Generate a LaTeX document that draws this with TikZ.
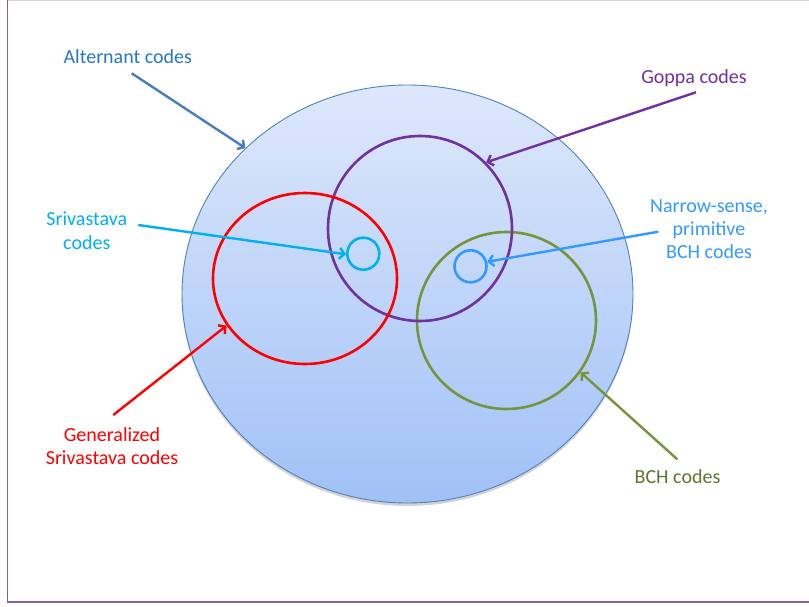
\documentclass[tikz,border=0pt]{standalone}
\usepackage{fontspec}
\setmainfont{Carlito}
\usetikzlibrary{arrows.meta,shapes.geometric,shadows}
\definecolor{slideframe}{RGB}{128,100,162}
\definecolor{alttext}{RGB}{38,120,196}
\definecolor{altarrow}{RGB}{74,126,187}
\definecolor{altedge}{RGB}{79,129,189}
\definecolor{gpurple}{RGB}{112,48,160}
\definecolor{scyan}{RGB}{0,176,240}
\definecolor{nblue}{RGB}{51,153,255}
\definecolor{ored}{RGB}{255,0,0}
\definecolor{bgreen}{RGB}{119,147,60}
\definecolor{bchtext}{RGB}{95,117,48}

\begin{document}
\begin{tikzpicture}[x=1pt,y=-1pt,line width=2.4pt,
            every node/.style={inner sep=0pt},
            >={Straight Barb[length=5pt,width=11pt]},
            set/.style={draw,ellipse,line width=2.6pt},
            lbl/.style={font=\fontsize{20}{23.4}\selectfont,align=center}]
            \useasboundingbox(0,0)rectangle(809,607);
            \draw[slideframe!30,line width=1pt](7.5,0.5)--(809,0.5);
            \draw[slideframe,line width=1.8pt](7.5,0)--(7.5,602)--(809,602);
            \node[set,draw=altedge,line width=0.9pt,top color={rgb,255:red,222;green,232;blue,251},bottom color={rgb,255:red,160;green,193;blue,247},
              drop shadow={shadow xshift=0pt,shadow yshift=-3pt,opacity=.35},minimum width=451pt,minimum height=418pt](alt)at(407.5,294){};
            \node[set,draw=bgreen,minimum width=179pt,minimum height=177pt](bch)at(506.5,320.5){};
            \node[set,draw=gpurple,minimum width=184pt,minimum height=185pt](goppa)at(420,228.5){};
            \node[set,draw=ored,minimum width=184pt,minimum height=171pt](gs)at(305,278.5){};
            \node[set,circle,draw=scyan,minimum size=32pt](sriv)at(363.3,253.7){};
            \node[set,circle,draw=nblue,minimum size=32pt](nbch)at(470.5,266.3){};
            \node[lbl,text=alttext,anchor=base](altl)at(127.8,64){Alternant codes};
            \node[lbl,text=gpurple,anchor=base](goppal)at(694,83.3){Goppa codes};
            \node[lbl,text=scyan,anchor=north](srivl)at(86.8,211){Srivastava\\codes};
            \node[lbl,text=nblue,anchor=north](nbchl)at(709,198){Narrow-sense,\\primitive\\BCH codes};
            \node[lbl,text=ored,anchor=north](gsl)at(112,426.5){Generalized\\Srivastava codes};
            \node[lbl,text=bchtext,anchor=base](bchl)at(677.5,483.3){BCH codes};
            \coordinate(altS)at(131.7,73.3);
            \coordinate(goppaS)at(696,92.3);
            \coordinate(srivS)at(138.3,225);
            \coordinate(nbchS)at(658.3,231.7);
            \coordinate(gsS)at(113.3,415);
            \coordinate(bchS)at(677.3,459.3);
            \draw[->,altarrow](altS)--(alt.138);
            \draw[->,gpurple](goppaS)--(goppa.45);
            \draw[->,scyan](srivS)--(sriv.182);
            \draw[->,nblue](nbchS)--(nbch.15);
            \draw[->,ored](gsS)--(gs.211);
            \draw[->,bgreen](bchS)--(bch.325);
          \end{tikzpicture}
\end{document}
